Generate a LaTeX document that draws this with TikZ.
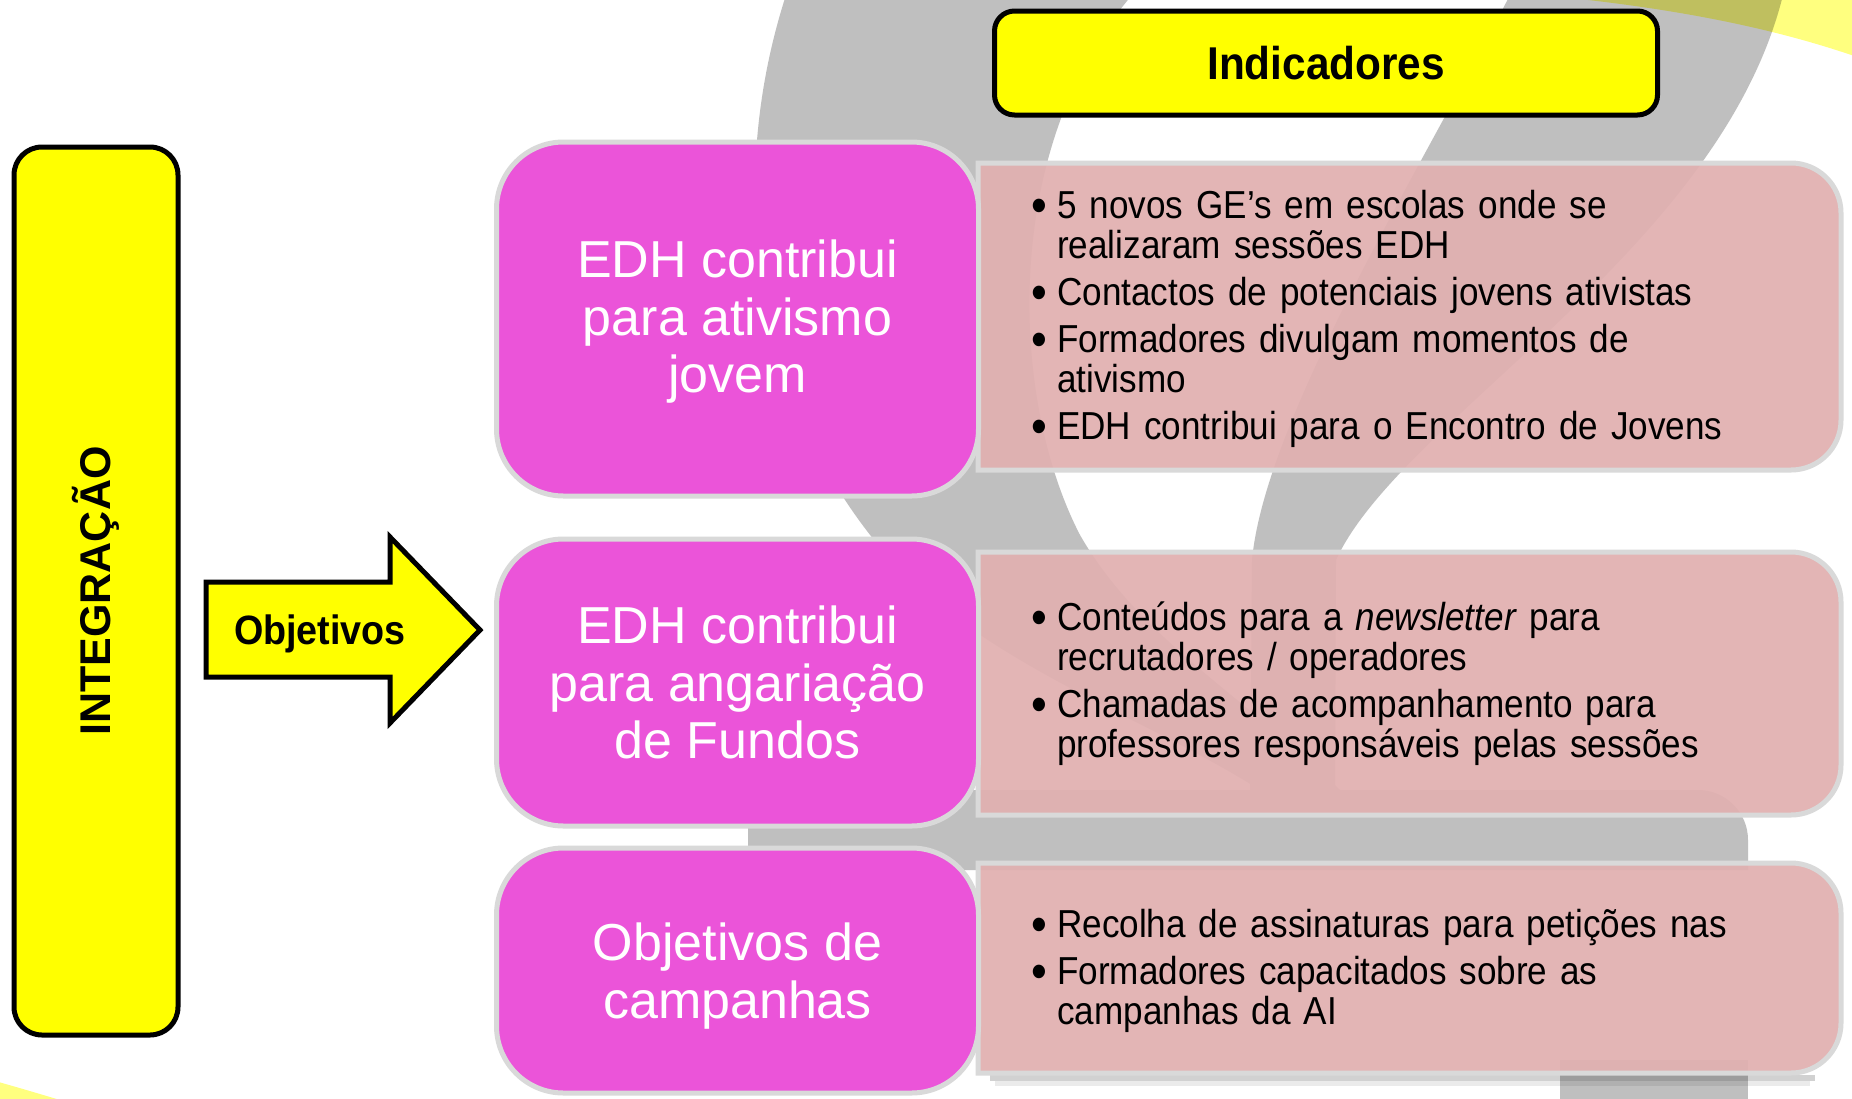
\documentclass[tikz,border=0pt]{standalone}
\usepackage{fontspec}
\setmainfont{Liberation Sans}
\newfontfamily\bodyf{Liberation Sans}[FakeStretch=0.90]
\newfontfamily\headf{Liberation Sans}[FakeStretch=0.92]
\definecolor{mag}{RGB}{235,84,217}
\definecolor{pinkf}{RGB}{225,176,176}
\definecolor{bord}{RGB}{217,217,217}
\definecolor{greyb}{RGB}{191,191,191}
\definecolor{yel}{RGB}{255,255,0}
\newcommand\bul[1]{\hangindent=24pt\hangafter=1\noindent\makebox[24pt][l]{\hspace*{-2pt}\raisebox{-4pt}{\fontsize{50}{50}\selectfont\textbullet}}#1\par}
\newcommand\gap{\vskip7pt}
\newcommand\firststrut{\rule{0pt}{31pt}}
\tikzset{
  magbox/.style={draw=bord, line width=5pt, fill=mag, rounded corners=67pt, inner sep=0pt,
    text=white, align=center, font=\fontsize{52}{57.5}\selectfont, minimum width=482pt},
  yelbox/.style={draw=black, line width=5pt, fill=yel, inner sep=0pt},
  pinkbox/.style={fill=pinkf, fill opacity=0.93, draw=bord, line width=5pt},
  bt/.style={anchor=north west, inner sep=0pt, text width=800pt, font=\bodyf\fontsize{39}{40}\selectfont}
}
\begin{document}
\begin{tikzpicture}[x=1pt, y=-1pt]
\useasboundingbox (0,0) rectangle (1852,1098);
\fill[white] (0,0) rectangle (1852,1098);
% background decoration
\begin{scope}
\clip (0,0) rectangle (1852,1098);
\fill[greyb] (786,-5) .. controls (720,200) and (760,420) .. (900,570)
  .. controls (1000,670) and (1150,720) .. (1260,790) -- (1340,790)
  .. controls (1250,700) and (1140,640) .. (1080,535)
  .. controls (1010,400) and (1000,150) .. (1132,-5) -- cycle;
\fill[greyb] (1510,-5) .. controls (1420,170) and (1265,420) .. (1252,560) -- (1250,800)
  -- (1335,800) -- (1336,560) .. controls (1400,420) and (1720,250) .. (1783,-5) -- cycle;
\fill[greyb] (748,870) -- (748,790) -- (1698,790) .. controls (1725.6,790) and (1748,812.4) .. (1748,840)
  -- (1748,870) -- cycle;
\fill[greyb] (1560,1060) rectangle (1748,1100);
\fill[yel, fill opacity=0.5, blend mode=multiply] (1540,-5) .. controls (1680,8) and (1780,30) .. (1860,58) -- (1860,-5) -- cycle;
\fill[yel, fill opacity=0.5] (-5,1081) .. controls (20,1088) and (40,1094) .. (60,1100) -- (-5,1100) -- cycle;
\end{scope}
% pink indicator boxes
\filldraw[pinkbox] (978,163) -- (1791,163) .. controls (1818.6,163) and (1841,185.4) .. (1841,213)
  -- (1841,420) .. controls (1841,447.6) and (1818.6,470) .. (1791,470) -- (978,470) -- cycle;
\filldraw[pinkbox] (978,552) -- (1791,552) .. controls (1818.6,552) and (1841,574.4) .. (1841,602)
  -- (1841,765) .. controls (1841,792.6) and (1818.6,815) .. (1791,815) -- (978,815) -- cycle;
\fill[black, opacity=0.18] (990,1075) rectangle (1815,1081);
\fill[black, opacity=0.08] (995,1081) rectangle (1810,1086);
\filldraw[pinkbox] (978,863) -- (1791,863) .. controls (1818.6,863) and (1841,885.4) .. (1841,913)
  -- (1841,1023) .. controls (1841,1050.6) and (1818.6,1073) .. (1791,1073) -- (978,1073) -- cycle;
% indicator texts
\node[bt] (ta) at (1033,187) {%
  \bul{\firststrut 5 novos GE’s em escolas onde se\newline realizaram sessões EDH}\gap
  \bul{Contactos de potenciais jovens ativistas}\gap
  \bul{Formadores divulgam momentos de\newline ativismo}\gap
  \bul{EDH contribui para o Encontro de Jovens}};
\node[bt] (tb) at (1033,599) {%
  \bul{\firststrut Conteúdos para a \emph{newsletter} para\newline recrutadores / operadores}\gap
  \bul{Chamadas de acompanhamento para\newline professores responsáveis pelas sessões}};
\node[bt] (tc) at (1033,906) {%
  \bul{\firststrut Recolha de assinaturas para petições nas}\gap
  \bul{Formadores capacitados sobre as\newline campanhas da AI}};
% magenta objective boxes
\node[magbox, minimum height=354pt] (m1) at (737.5,319) {\rule{0pt}{43pt}EDH contribui\\para ativismo\\jovem};
\node[magbox, minimum height=287pt] (m2) at (737.5,682.5) {EDH contribui\\para angariação\\de Fundos};
\node[magbox, minimum height=245pt] (m3) at (737.5,970.5) {\rule{0pt}{49pt}Objetivos de\\campanhas};
% left integration bar
\node[yelbox, rounded corners=28pt, minimum width=888pt, minimum height=164pt, rotate=90,
  font=\bfseries\fontsize{43}{43}\selectfont] (integ) at (96,591) {INTEGRAÇÃO};
% header
\node[yelbox, rounded corners=20pt, minimum width=663pt, minimum height=104pt,
  font=\headf\bfseries\fontsize{46}{46}\selectfont] (ind) at (1326,63) {Indicadores};
% arrow
\draw[line width=5pt, fill=yel, line join=miter] (206,582) -- (390,582) -- (390,537) -- (480,630)
  -- (390,723) -- (390,677) -- (206,677) -- cycle;
\node[inner sep=0pt, font=\headf\bfseries\fontsize{41}{41}\selectfont] (obj) at (320,634) {Objetivos};
\end{tikzpicture}
\end{document}
